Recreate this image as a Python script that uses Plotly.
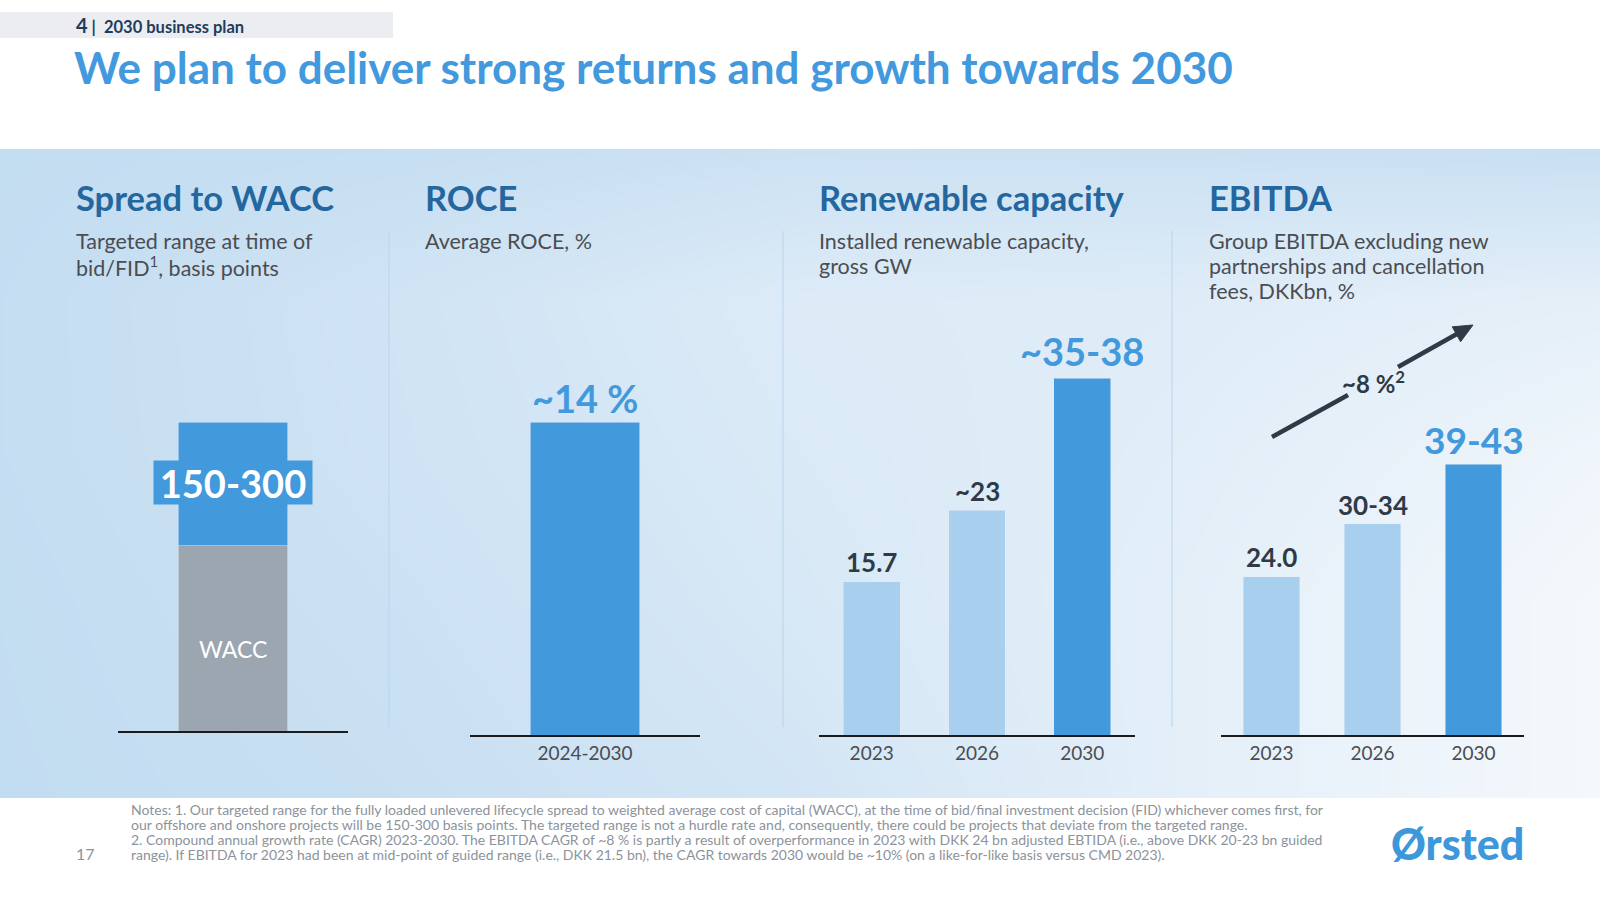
import plotly.graph_objects as go

W, H = 1600, 900

# ---------------- data ----------------
spread_categories = ["WACC"]
wacc_values = [1.5]
spread_values = [1.0]
spread_label = "150-300"
wacc_label = "WACC"

roce_categories = ["2024-2030"]
roce_values = [14]
roce_labels = ["~14 %"]

capacity_years = ["2023", "2026", "2030"]
capacity_values = [15.7, 23, 36.5]
capacity_labels = ["15.7", "~23", "~35-38"]

ebitda_years = ["2023", "2026", "2030"]
ebitda_values = [24.0, 32, 41]
ebitda_labels = ["24.0", "30-34", "39-43"]
ebitda_cagr_label = "~8 %<sup>2</sup>"

section_titles = ["Spread to WACC", "ROCE", "Renewable capacity", "EBITDA"]
section_subtitles = [
    ["Targeted range at time of", "bid/FID<sup>1</sup>, basis points"],
    ["Average ROCE, %"],
    ["Installed renewable capacity,", "gross GW"],
    ["Group EBITDA excluding new", "partnerships and cancellation", "fees, DKKbn, %"],
]
notes_lines = [
    "Notes: 1. Our targeted range for the fully loaded unlevered lifecycle spread to weighted average cost of capital (WACC), at the time of bid/final investment decision (FID) whichever comes first, for",
    "our offshore and onshore projects will be 150-300 basis points. The targeted range is not a hurdle rate and, consequently, there could be projects that deviate from the targeted range.",
    "2. Compound annual growth rate (CAGR) 2023-2030. The EBITDA CAGR of ~8 % is partly a result of overperformance in 2023 with DKK 24 bn adjusted EBTIDA (i.e., above DKK 20-23 bn guided",
    "range). If EBITDA for 2023 had been at mid-point of guided range (i.e., DKK 21.5 bn), the CAGR towards 2030 would be ~10% (on a like-for-like basis versus CMD 2023).",
]

# ---------------- style ----------------
FONT = "Lato"
BLUE = "#4299dc"
LIGHT = "#a8cfee"
GREY = "#9ca6b0"
DARK = "#2e3a46"
TITLE_BLUE = "#4299dd"
SEC_BLUE = "#24679f"
SUB = "#4a4d52"
NOTE = "#8c939b"


def px(x):
    return x / W


def py(y):
    return 1 - y / H


# background gradient (decorative)
BG_X = [0, 400, 800, 1200, 1600]
BG_Y = [149, 300, 450, 600, 798]
BG_Z = [
    [0.05, 0.12, 0.22, 0.20, 0.15],
    [0.08, 0.30, 0.55, 0.60, 0.70],
    [0.08, 0.28, 0.50, 0.65, 0.90],
    [0.05, 0.22, 0.45, 0.70, 1.00],
    [0.03, 0.15, 0.35, 0.70, 1.00],
]

fig = go.Figure()
fig.add_trace(go.Heatmap(x=BG_X, y=BG_Y, z=BG_Z, zsmooth="best", showscale=False,
                         colorscale=[[0, "#c2dcf1"], [1, "#f4f8fc"]], hoverinfo="skip",
                         xaxis="x", yaxis="y"))

# Spread to WACC (stacked)
fig.add_trace(go.Bar(x=spread_categories, y=wacc_values, marker_color=GREY, width=0.474,
                     xaxis="x2", yaxis="y2", hoverinfo="skip"))
fig.add_trace(go.Bar(x=spread_categories, y=spread_values, marker_color=BLUE, width=0.474,
                     xaxis="x2", yaxis="y2", hoverinfo="skip"))
# ROCE
fig.add_trace(go.Bar(x=roce_categories, y=roce_values, marker_color=BLUE, width=0.478,
                     xaxis="x3", yaxis="y3", hoverinfo="skip"))
# Capacity
fig.add_trace(go.Bar(x=capacity_years, y=capacity_values, marker_color=[LIGHT, LIGHT, BLUE],
                     width=0.54, xaxis="x4", yaxis="y4", hoverinfo="skip"))
# EBITDA
fig.add_trace(go.Bar(x=ebitda_years, y=ebitda_values, marker_color=[LIGHT, LIGHT, BLUE],
                     width=0.555, xaxis="x5", yaxis="y5", hoverinfo="skip"))


def xax(d0, d1, cats, show_ticks=True):
    return dict(domain=[px(d0), px(d1)], type="category", categoryorder="array",
                categoryarray=cats, range=[-0.5, len(cats) - 0.5],
                showgrid=False, zeroline=False,
                showline=True, linecolor="#1b1b1b", linewidth=2, ticks="",
                showticklabels=show_ticks, tickfont=dict(family=FONT, size=19, color=SUB),
                fixedrange=True)


def yax(base, top, rmax, anchor):
    return dict(domain=[py(base), py(top)], range=[0, rmax], showgrid=False, zeroline=False,
                showline=False, showticklabels=False, anchor=anchor, fixedrange=True)


layout = dict(
    width=W, height=H, margin=dict(l=0, r=0, t=0, b=0), autosize=False,
    paper_bgcolor="white", plot_bgcolor="rgba(0,0,0,0)", showlegend=False, barmode="stack",
    font=dict(family=FONT),
    xaxis=dict(domain=[0, 1], range=[0, 1600], visible=False, fixedrange=True),
    yaxis=dict(domain=[py(798), py(149)], range=[798, 149], visible=False, fixedrange=True),
    xaxis2=dict(xax(118, 348, spread_categories, False), anchor="y2"),
    yaxis2=yax(731, 300, 2.5 * 431 / 309, "x2"),
    xaxis3=dict(xax(470, 700, roce_categories), anchor="y3"),
    yaxis3=yax(735, 300, 14 * 435 / 313, "x3"),
    xaxis4=dict(xax(819, 1135, capacity_years), anchor="y4"),
    yaxis4=yax(735, 300, 435 / 9.77, "x4"),
    xaxis5=dict(xax(1221, 1524, ebitda_years), anchor="y5"),
    yaxis5=yax(735, 300, 435 / 6.6, "x5"),
)
fig.update_layout(**layout)

shapes = []
# header bar
shapes.append(dict(type="rect", xref="paper", yref="paper", x0=0, x1=px(393), y0=py(38), y1=py(12),
                   fillcolor="#ebedf0", line_width=0, layer="above"))
# separators
for sx in [389, 783, 1172]:
    shapes.append(dict(type="line", xref="paper", yref="paper", x0=px(sx), x1=px(sx),
                       y0=py(727), y1=py(231), line=dict(color="#b9d5ec", width=1), layer="above"))

# CAGR arrow: lower segment, upper segment and arrow head
tail, tip = (1398, 367), (1473, 325)
shapes.append(dict(type="line", xref="paper", yref="paper", x0=px(1272), y0=py(437), x1=px(1348),
                   y1=py(395), line=dict(color=DARK, width=4.5), layer="above"))
dx, dy = tip[0] - tail[0], tip[1] - tail[1]
ln = (dx * dx + dy * dy) ** 0.5
ux, uy = dx / ln, dy / ln
head_len, head_half = 19, 8.5
bx, by = tip[0] - head_len * ux, tip[1] - head_len * uy
shapes.append(dict(type="line", xref="paper", yref="paper", x0=px(tail[0]), y0=py(tail[1]),
                   x1=px(bx + 2 * ux), y1=py(by + 2 * uy), line=dict(color=DARK, width=4.5),
                   layer="above"))
c1 = (bx - head_half * uy, by + head_half * ux)
c2 = (bx + head_half * uy, by - head_half * ux)
shapes.append(dict(type="path", xref="paper", yref="paper",
                   path=f"M {px(tip[0])} {py(tip[1])} L {px(c1[0])} {py(c1[1])} "
                        f"L {px(c2[0])} {py(c2[1])} Z",
                   fillcolor=DARK, line=dict(color=DARK, width=1), layer="above"))
fig.update_layout(shapes=shapes)

ann = []


def text(x, y, t, size, color, xanchor="left", yanchor="middle", weight=None, **kw):
    f = dict(family=FONT, size=size, color=color)
    if weight:
        f["weight"] = weight
    ann.append(dict(x=px(x), y=py(y), xref="paper", yref="paper", text=t, showarrow=False,
                    xanchor=xanchor, yanchor=yanchor, font=f, **kw))


# header
text(74, 25, "<b><span style='font-size:20px'>4</span> |  2030 business plan</b>", 16.5, "#1d3c5e")
# title
text(72, 67, "<b>We plan to deliver strong returns and growth towards 2030</b>", 44, TITLE_BLUE)
# section titles / subtitles
for sx, title, subs in zip([74, 423, 817, 1207], section_titles, section_subtitles):
    text(sx, 197, "<b>" + title + "</b>", 34.5, SEC_BLUE)
    for i, s in enumerate(subs):
        text(sx, 241.5 + 24.5 * i, s, 21.5, SUB)

# Spread labels
ann.append(dict(x=0, y=wacc_values[0] / 2, xref="x2", yref="y2", yshift=-11,
                text=wacc_label, showarrow=False, font=dict(family=FONT, size=23, color="white")))
ann.append(dict(x=0, y=wacc_values[0] + spread_values[0] / 2, xref="x2", yref="y2",
                yshift=1, text="<b>" + spread_label + "</b>", showarrow=False, bgcolor=BLUE,
                borderpad=0, width=158, height=43,
                font=dict(family=FONT, size=38, color="white")))

# ROCE label
for i, (v, l) in enumerate(zip(roce_values, roce_labels)):
    ann.append(dict(x=i, y=v, xref="x3", yref="y3", yshift=24, text="<b>" + l + "</b>",
                    showarrow=False, font=dict(family=FONT, size=38, color=BLUE)))

# Capacity labels
for i, (v, l, s, col, sh) in enumerate(zip(capacity_values, capacity_labels,
                                           [26, 26, 38], [DARK, DARK, BLUE], [20, 19, 27])):
    ann.append(dict(x=i, y=v, xref="x4", yref="y4", yshift=sh, text="<b>" + l + "</b>",
                    showarrow=False, font=dict(family=FONT, size=s, color=col)))

# EBITDA labels
for i, (v, l, s, col, sh) in enumerate(zip(ebitda_values, ebitda_labels,
                                           [26, 26, 37], [DARK, DARK, BLUE], [20, 19, 25])):
    ann.append(dict(x=i, y=v, xref="x5", yref="y5", yshift=sh, text="<b>" + l + "</b>",
                    showarrow=False, font=dict(family=FONT, size=s, color=col)))

# CAGR label
text(1373, 382, "<b>" + ebitda_cagr_label + "</b>", 24, DARK, xanchor="center")

# notes
for i, line in enumerate(notes_lines):
    text(129, 809 + 15 * i, line, 14, NOTE)
text(74, 853, "17", 16, NOTE)
# logo
text(1457, 843, "Ørsted", 43, "#3d97db", xanchor="center", weight=900)

fig.update_layout(annotations=ann)
fig.write_html("out.html", config={"displayModeBar": False},
               post_script="document.body.style.margin='0';document.body.style.padding='0';"
                           "document.body.style.overflow='hidden';")
